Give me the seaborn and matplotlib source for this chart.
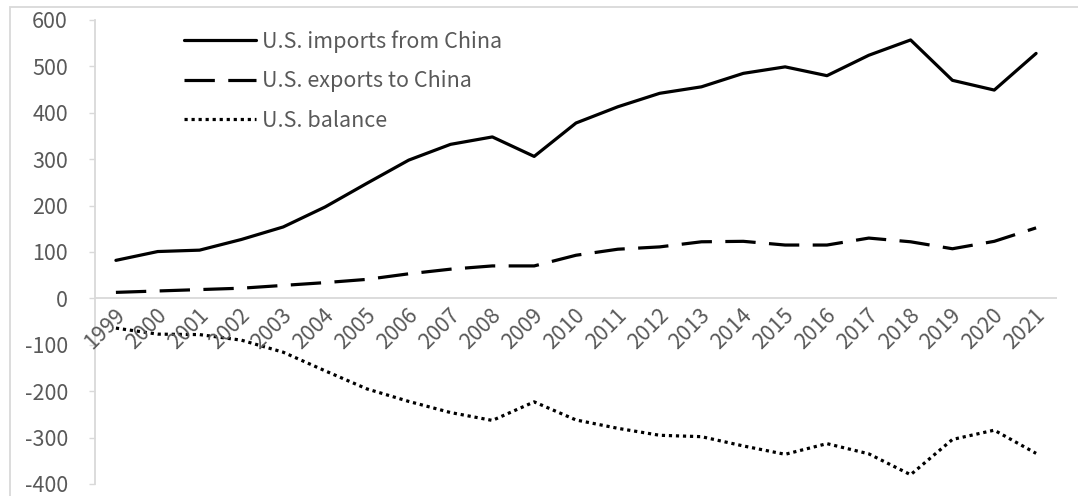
import matplotlib
matplotlib.use("Agg")
import matplotlib.pyplot as plt
import seaborn as sns
import pandas as pd
from matplotlib.patches import Rectangle

years = [str(y) for y in range(1999, 2022)]
imports_china = [82, 101, 104, 127, 154, 197, 248, 298, 332, 348, 306, 378, 413,
                 442, 456, 485, 499, 480, 524, 557, 470, 449, 528]
exports_china = [13, 16, 19, 22, 28, 34, 41, 53, 63, 70, 70, 93, 106,
                 111, 122, 123, 115, 115, 130, 122, 107, 123, 152]
balance = [-64, -77, -78, -90, -116, -156, -195, -222, -246, -263, -223, -262, -280,
           -295, -298, -318, -336, -313, -335, -380, -304, -284, -334]
series_names = ["U.S. imports from China", "U.S. exports to China", "U.S. balance"]
y_ticks = [-400, -300, -200, -100, 0, 100, 200, 300, 400, 500, 600]

sns.set_theme(style="white")
plt.rcParams['font.family'] = ['Noto Sans CJK SC', 'DejaVu Sans']

FS = 15.5
fig = plt.figure(figsize=(10.78, 4.96), dpi=100)
ax = fig.add_axes([95/1078, 1 - 484/496, (1057 - 95)/1078, (484 - 20)/496])

x = list(range(len(years)))
styles = [
    dict(linestyle='-'),
    dict(dashes=(9.5, 4.2)),
    dict(dashes=(1, 1.2)),
]
for name, vals, st in zip(series_names, [imports_china, exports_china, balance], styles):
    sns.lineplot(x=x, y=vals, ax=ax, color='black', linewidth=2.3, label=name,
                 solid_capstyle='round', dash_capstyle='butt', **st)

ax.set_xlim(-0.5, len(years) - 0.5)
ax.set_ylim(-400, 600)
ax.set_yticks(y_ticks)
ax.set_yticklabels([str(t) for t in y_ticks])
ax.tick_params(axis='y', length=4.5, width=1, color='#d9d9d9', pad=15,
               labelsize=FS, labelcolor='#595959', left=True)
ax.tick_params(axis='x', bottom=False, length=0)
ax.set_xticks([])

for s in ['top', 'right', 'bottom']:
    ax.spines[s].set_visible(False)
ax.spines['left'].set_color('#d9d9d9')
ax.spines['left'].set_linewidth(1.3)
ax.axhline(0, color='#d9d9d9', linewidth=1.3, zorder=0)

for i, yr in enumerate(years):
    ax.annotate(yr, xy=(i, 0), xytext=(4, -10), textcoords='offset points',
                rotation=45, ha='right', va='center', rotation_mode='anchor',
                fontsize=FS, color='#595959')

ax.set_xlabel('')
ax.set_ylabel('')
leg = ax.legend(loc='upper left', bbox_to_anchor=(0.093, 0.978), frameon=False,
                fontsize=FS, handlelength=3.3, handletextpad=0.3,
                labelspacing=0.81, borderaxespad=0, borderpad=0)
for t in leg.get_texts():
    t.set_color('#595959')

fig.patches.append(Rectangle((10/1078, -0.05), 1.2, 1 - 7/496 + 0.05,
                             transform=fig.transFigure, fill=False,
                             edgecolor='#d9d9d9', linewidth=1.3))

fig.savefig('out.png', dpi=100)
